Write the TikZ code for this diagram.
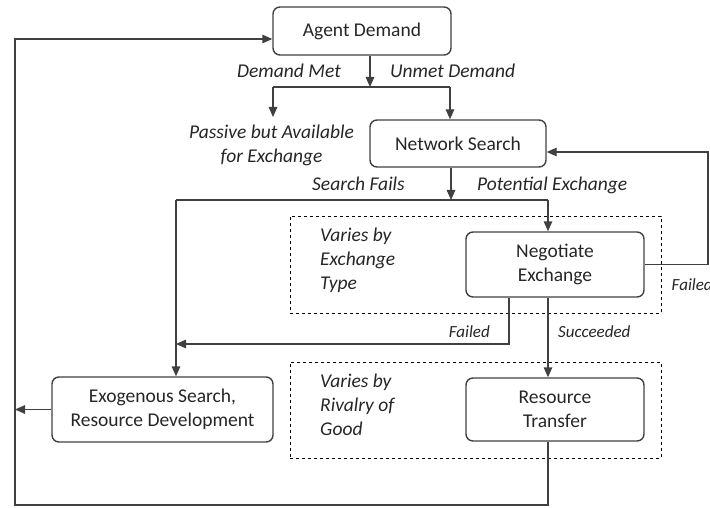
\documentclass[tikz,border=0pt]{standalone}
\usepackage{fontspec}
\setmainfont{Carlito}
\usetikzlibrary{arrows.meta}
\definecolor{linec}{HTML}{404040}
\definecolor{txtc}{HTML}{262626}
\begin{document}
\begin{tikzpicture}[x=1pt,y=-1pt,
  box/.style={draw=linec, line width=1.4pt, rounded corners=7pt, align=center,
    text=txtc, inner sep=0pt, font=\fontsize{19.5}{24}\selectfont},
  dbox/.style={draw=black, line width=1pt, dashed, inner sep=0pt},
  lbl/.style={text=txtc, inner sep=0pt, font=\fontsize{19.5}{24}\selectfont\itshape},
  slbl/.style={text=txtc, inner sep=0pt, font=\fontsize{17}{20}\selectfont\itshape},
  ln/.style={draw=linec, line width=1.4pt},
  arr/.style={ln, -{Triangle[length=10pt,width=8.5pt]}}]
\useasboundingbox (0,0) rectangle (710,508);
% boxes
\node[box, minimum width=178pt, minimum height=48pt] (agent) at (362,31) {Agent Demand};
\node[box, minimum width=176pt, minimum height=47pt] (net) at (458,143.5) {Network Search};
\node[dbox, minimum width=371pt, minimum height=97pt] (d1) at (475.5,264.5) {};
\node[dbox, minimum width=371pt, minimum height=96pt] (d2) at (475.5,410) {};
\node[box, minimum width=178pt, minimum height=65pt] (neg) at (555,264.5) {Negotiate\\Exchange};
\node[box, minimum width=178pt, minimum height=63pt] (res) at (555,409.5) {Resource\\Transfer};
\node[box, minimum width=221pt, minimum height=65pt] (exo) at (162.5,409.5) {Exogenous Search,\\Resource Development};
% texts
\node[lbl, align=center] (passive) at (271.5,145) {Passive but Available\\for Exchange};
\node[lbl, align=left, anchor=west] (v1) at (320,260) {Varies by\\Exchange\\Type};
\node[lbl, align=left, anchor=west] (v2) at (320,405) {Varies by\\Rivalry of\\Good};
\node[lbl, anchor=base east] (lmet) at (341,78) {Demand Met};
\node[lbl, anchor=base west] (lunmet) at (390,78) {Unmet Demand};
\node[lbl, anchor=base east] (lfails) at (405,191) {Search Fails};
\node[lbl, anchor=base west] (lpot) at (477,191) {Potential Exchange};
\node[slbl, anchor=base east] (lfl) at (490,337) {Failed};
\node[slbl, anchor=base west] (lsc) at (558,337) {Succeeded};
\node[slbl, anchor=base west] (lfr) at (671.5,290) {Failed};
% coordinates
\coordinate (j1) at (370,87);
\coordinate (jl) at (273,87);
\coordinate (jr) at (450,87);
\coordinate (pt) at (273,117);
\coordinate (j2) at (451,200);
\coordinate (sl) at (176,200);
\coordinate (sr) at (548,200);
\coordinate (fr) at (708,152);
\coordinate (fl) at (509,344);
\coordinate (fle) at (176,344);
\coordinate (sx) at (548,300);
\coordinate (b1) at (548,505);
\coordinate (b2) at (15,505);
\coordinate (b3) at (15,39);
% connectors
\draw[arr] (agent.south -| j1) -- (j1);
\draw[ln] (jl) -- (jr);
\draw[arr] (jl) -- (pt);
\draw[arr] (jr) -- (jr |- net.north);
\draw[arr] (net.south -| j2) -- (j2);
\draw[ln] (sl) -- (sr);
\draw[arr] (sr) -- (sr |- neg.north);
\draw[arr] (sl) -- (sl |- exo.north);
\draw[arr] (neg.east) -| (fr) -- (fr -| net.east);
\draw[arr] (neg.south -| fl) -- (fl) -- (fle);
\draw[arr] (neg.south -| sx) -- (res.north -| sx);
\draw[arr] (res.south -| b1) -- (b1) -- (b2) -- (b3) -- (b3 -| agent.west);
\draw[arr] (exo.west) -- (exo.west -| b2);
\end{tikzpicture}
\end{document}
